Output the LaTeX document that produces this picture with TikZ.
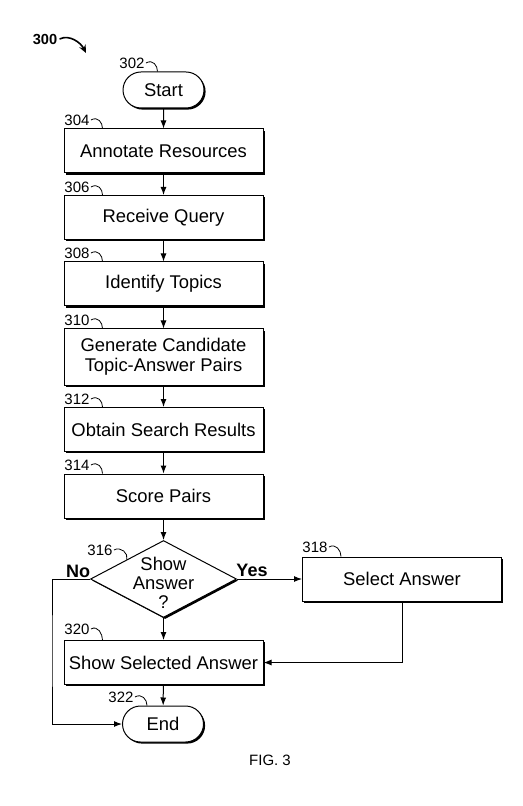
\documentclass[tikz,border=0pt]{standalone}
\usepackage{fontspec}
\setmainfont{Liberation Sans}
\usetikzlibrary{shapes.geometric, shapes.misc, shadows, arrows.meta}

\tikzset{
  stepbox/.style={draw, fill=white, line width=0.5pt, minimum width=99.5pt, minimum height=22pt,
    inner sep=2pt, align=center, font=\fontsize{9.2}{10}\selectfont,
    drop shadow={shadow xshift=0.8pt, shadow yshift=-0.8pt, fill=black, opacity=1}},
  terminal/.style={stepbox, rounded rectangle, minimum width=44.5pt, minimum height=18pt},
  decision/.style={draw, fill=white, diamond, line width=0.5pt, minimum width=73pt, minimum height=38.5pt,
    inner sep=0pt, drop shadow={shadow xshift=0.8pt, shadow yshift=-0.8pt, fill=black, opacity=1}},
  ref/.style={font=\fontsize{7.5}{8}\selectfont, inner sep=0pt},
  yesno/.style={font=\bfseries\fontsize{9}{10}\selectfont, inner sep=0pt},
  flow/.style={-{Latex[length=4pt, width=3pt]}, line width=0.5pt},
  hook/.style={line width=0.4pt},
}

\begin{document}
\begin{tikzpicture}[x=0.5pt, y=-0.5pt]

\useasboundingbox (0, 0) rectangle (523, 806);

%% Define the nodes
% B = box (step)
% L = label (reference number)

\node [terminal] (start) at (163.5, 90) {Start};
\node [stepbox] (B304) at (163.5, 151) {Annotate Resources};
\node [stepbox] (B306) at (163.5, 217.5) {Receive Query};
\node [stepbox] (B308) at (163.5, 284) {Identify Topics};
\node [stepbox, minimum height=28pt] (B310) at (163.5, 357) {Generate Candidate\\Topic-Answer Pairs};
\node [stepbox] (B312) at (163.5, 429.5) {Obtain Search Results};
\node [stepbox] (B314) at (163.5, 496) {Score Pairs};
\node [decision, label={[align=center, font=\fontsize{9.2}{9.5}\selectfont, yshift=-2pt]center:Show\\Answer\\?}] (D316) at (163.5, 579) {};
\node [stepbox] (B318) at (402, 579) {Select Answer};
\node [stepbox] (B320) at (163.5, 662.5) {Show Selected Answer};
\node [terminal] (end) at (163, 724) {End};

\coordinate (Nx) at (52, 650);

%% Reference numbers
\node [ref, font=\bfseries\fontsize{7.3}{8}\selectfont] (L300) at (45, 39) {300};
\coordinate (F300) at (86, 53);
\draw [-{Stealth[length=4pt, width=3.5pt]}, line width=0.8pt] ([xshift=1pt]L300.east) .. controls +(10, -5) and +(-5, -10) .. (F300);

\node [ref] (L302) at (132, 63) {302};
\node [ref] (L304) at (77, 120) {304};
\node [ref] (L306) at (77, 187) {306};
\node [ref] (L308) at (77, 253) {308};
\node [ref] (L310) at (77, 320) {310};
\node [ref] (L312) at (77, 399) {312};
\node [ref] (L314) at (77, 465) {314};
\node [ref] (L316) at (100, 550) {316};
\node [ref] (L318) at (315, 547) {318};
\node [ref] (L320) at (77, 629) {320};
\node [ref] (L322) at (121, 697) {322};

\draw [hook] ([xshift=0.5pt]L302.east) .. controls +(7, -4) and +(0, -6) .. ([xshift=-3pt]start.north);
\draw [hook] ([xshift=0.5pt]L304.east) .. controls +(7, -4) and +(0, -6) .. ([xshift=19.5pt]B304.north west);
\draw [hook] ([xshift=0.5pt]L306.east) .. controls +(7, -4) and +(0, -6) .. ([xshift=19.5pt]B306.north west);
\draw [hook] ([xshift=0.5pt]L308.east) .. controls +(7, -4) and +(0, -6) .. ([xshift=19.5pt]B308.north west);
\draw [hook] ([xshift=0.5pt]L310.east) .. controls +(7, -4) and +(0, -6) .. ([xshift=19.5pt]B310.north west);
\draw [hook] ([xshift=0.5pt]L312.east) .. controls +(7, -4) and +(0, -6) .. ([xshift=19.5pt]B312.north west);
\draw [hook] ([xshift=0.5pt]L314.east) .. controls +(7, -4) and +(0, -6) .. ([xshift=19.5pt]B314.north west);
\draw [hook] ([xshift=0.5pt]L316.east) .. controls +(7, -4) and +(2, -6) .. (D316.north west);
\draw [hook] ([xshift=0.5pt]L318.east) .. controls +(7, -4) and +(0, -6) .. ([xshift=19.5pt]B318.north west);
\draw [hook] ([xshift=0.5pt]L320.east) .. controls +(7, -4) and +(0, -6) .. ([xshift=19.5pt]B320.north west);
\draw [hook] ([xshift=0.5pt]L322.east) .. controls +(7, -4) and +(0, -6) .. ([xshift=-8pt]end.north);

%% Draw the flow
\draw [flow] (start) -- (B304);
\draw [flow] (B304) -- (B306);
\draw [flow] (B306) -- (B308);
\draw [flow] (B308) -- (B310);
\draw [flow] (B310) -- (B312);
\draw [flow] (B312) -- (B314);
\draw [flow] (B314) -- (D316);
\draw [flow] (D316.east) -- (B318.west);
\draw [flow] (D316.south) -- (B320.north);
\draw [flow] (B318.south) |- (B320.east);
\draw [flow] (B320) -- (end);
\draw [flow] (D316.west) -| (Nx) |- (end.west);

\node [yesno] (No) at (78, 571) {No};
\node [yesno] (Yes) at (252, 570) {Yes};

\node [ref] (fig) at (270, 760) {FIG. 3};

\end{tikzpicture}
\end{document}
